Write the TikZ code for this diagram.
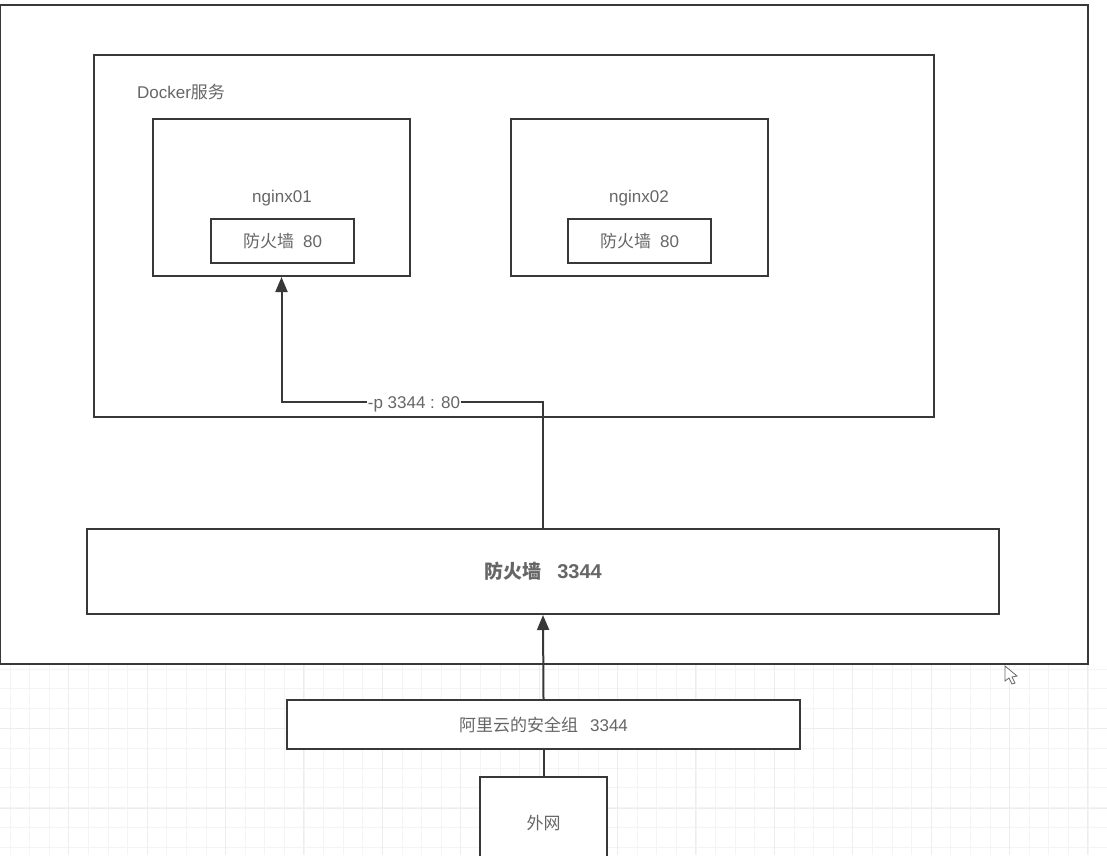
\documentclass[tikz,border=0pt]{standalone}
\usepackage{fontspec}
\usepackage{xcolor}
\setmainfont{Liberation Sans}
\newfontfamily\cjk{Noto Sans CJK SC}
\usetikzlibrary{arrows, arrows.meta}
\definecolor{boxline}{HTML}{383838}
\definecolor{boxtext}{HTML}{666666}
\definecolor{gridminor}{HTML}{F4F4F4}
\definecolor{gridmajor}{HTML}{EDEDED}
\tikzset{
  boxnode/.style={draw=boxline, line width=2pt, fill=white, inner sep=0pt, text=boxtext, font=\fontsize{17}{19}\selectfont},
  labeltext/.style={inner sep=0pt, text=boxtext, font=\fontsize{17}{19}\selectfont},
  flow/.style={draw=boxline, line width=2pt},
  flowtip/.style={flow, -{Triangle[length=15pt, width=12pt]}}
}
\begin{document}
\begin{tikzpicture}[x=1pt, y=-1pt]
      \useasboundingbox (0,0) rectangle (1107,855);
      \clip (0,0) rectangle (1107,855);
      \fill [white] (0,0) rectangle (1107,855);
      \foreach \k in {0,...,56} {
        \draw [gridminor, line width=1pt] (10+19.6*\k,665) -- (10+19.6*\k,855);
      }
      \foreach \k in {0,...,9} {
        \draw [gridminor, line width=1pt] (0,669+19.8*\k) -- (1107,669+19.8*\k);
      }
      \foreach \k in {0,...,14} {
        \draw [gridmajor, line width=1pt] (147+78.4*\k-78.4*2,665) -- (147+78.4*\k-78.4*2,855);
      }
      \foreach \k in {0,1} {
        \draw [gridmajor, line width=1pt] (0,728+80*\k) -- (1107,728+80*\k);
      }
      \node [boxnode, minimum width=1088pt, minimum height=659pt] (hostbox) at (544,334.5) {};
      \node [boxnode, minimum width=840pt, minimum height=362pt] (dockerbox) at (514,236) {};
      \node [labeltext] (dockerlabel) at (181,92) {Docker{\cjk 服务}};
      \node [boxnode, minimum width=257pt, minimum height=157pt] (nginxa) at (281.5,197.5) {};
      \node [labeltext] (nginxalabel) at (282,198.5) {nginx01};
      \node [boxnode, minimum width=143pt, minimum height=44pt] (walla) at (282.5,241) {{\cjk 防火墙}\hspace{9pt}80};
      \node [boxnode, minimum width=257pt, minimum height=157pt] (nginxb) at (639.5,197.5) {};
      \node [labeltext] (nginxblabel) at (639,198.5) {nginx02};
      \node [boxnode, minimum width=143pt, minimum height=44pt] (wallb) at (639.5,241) {{\cjk 防火墙}\hspace{9pt}80};
      \node [boxnode, minimum width=912pt, minimum height=85pt, font=\fontsize{19}{21}\bfseries] (hostwall) at (543,571.5) {{\cjk 防火墙}\hspace{16pt}\fontsize{20}{21}\selectfont 3344};
      \node [boxnode, minimum width=513pt, minimum height=49pt] (aliyun) at (543.5,724.5) {{\cjk 阿里云的安全组}\hspace{12pt}3344};
      \node [boxnode, minimum width=127pt, minimum height=93pt] (wan) at (543.5,823.5) {{\cjk 外网}};
      \node [labeltext, fill=white, inner xsep=1pt] (portmap) at (414,404) {-p 3344 : 80};
      \draw [flow] (hostwall.north) |- (portmap.east |- 0,402);
      \draw [flowtip] (portmap.west |- 0,402) -| (nginxa.south);
      \draw [flowtip] (aliyun.north) -- (hostwall.south);
      \draw [flow] (wan.north) -- (aliyun.south);
      \draw [draw=boxtext, line width=0.8pt, fill=white] (1005,666) -- (1005,681) -- (1009,678) -- (1012,684) -- (1015,683) -- (1012,677) -- (1017,676) -- cycle;
    \end{tikzpicture}
\end{document}
